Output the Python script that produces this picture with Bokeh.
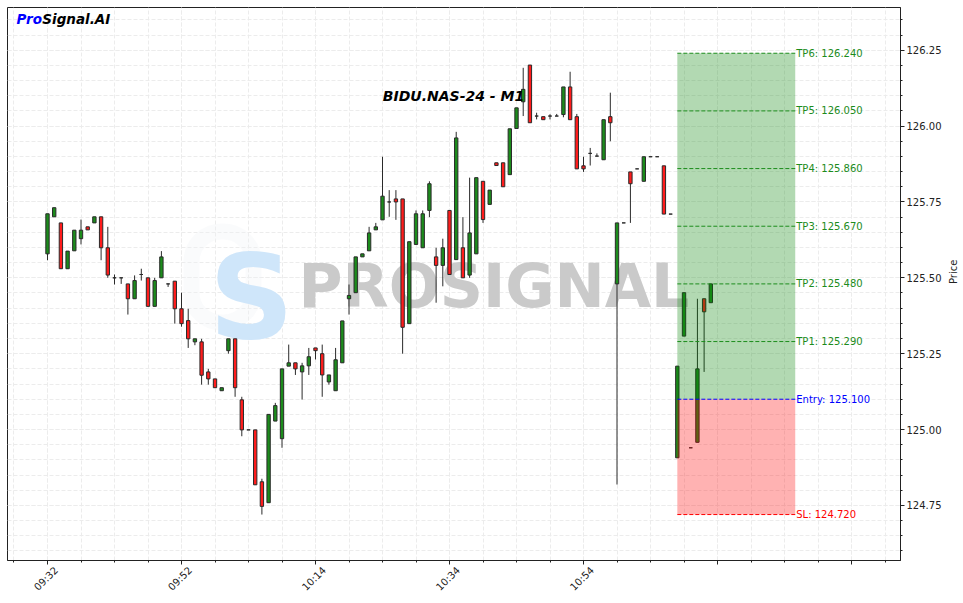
import math
from bokeh.plotting import figure
from bokeh.models import (ColumnDataSource, Range1d, FixedTicker, Label, LinearAxis,
                          BoxAnnotation, NumeralTickFormatter)
from bokeh.embed import file_html
from bokeh.resources import INLINE
from bokeh.core.properties import value

# ---------------- data ----------------
opens = [125.579, 125.701, 125.681, 125.530, 125.589, 125.629, 125.668, 125.681, 125.701, 125.599,
         125.500, 125.500, 125.480, 125.431, 125.511, 125.500, 125.406, 125.500, 125.480, 125.489,
         125.398, 125.359, 125.289, 125.289, 125.190, 125.167, 125.128, 125.260, 125.299, 125.098,
         124.999, 124.999, 124.828, 124.759, 125.028, 124.970, 125.209, 125.220, 125.190, 125.210,
         125.269, 125.250, 125.157, 125.128, 125.220, 125.431, 125.451, 125.569, 125.589, 125.658,
         125.691, 125.750, 125.760, 125.760, 125.349, 125.610, 125.599, 125.722, 125.569, 125.541,
         125.722, 125.560, 125.599, 125.509, 125.579, 125.818, 125.742, 125.879, 125.879, 125.840,
         125.992, 126.080, 126.201, 126.033, 126.031, 126.033, 126.033, 126.038, 126.129, 126.031,
         125.869, 125.910, 125.901, 125.889, 126.031, 125.480, 125.681, 125.849, 125.859, 125.818,
         125.899, 125.899, 125.869, 125.710, 124.907, 125.308, 124.940, 124.958, 125.431, 125.418]
highs = [125.711, 125.731, 125.681, 125.588, 125.657, 125.692, 125.668, 125.701, 125.701, 125.668,
         125.511, 125.500, 125.480, 125.508, 125.530, 125.500, 125.500, 125.588, 125.480, 125.489,
         125.451, 125.398, 125.299, 125.299, 125.200, 125.167, 125.138, 125.299, 125.299, 125.108,
         124.999, 124.999, 124.838, 125.050, 125.088, 125.200, 125.280, 125.220, 125.220, 125.269,
         125.269, 125.280, 125.180, 125.269, 125.358, 125.478, 125.569, 125.579, 125.668, 125.681,
         125.899, 125.789, 125.789, 125.760, 125.619, 125.722, 125.722, 125.818, 125.599, 125.629,
         125.722, 125.981, 125.700, 125.830, 125.830, 125.818, 125.789, 125.879, 125.879, 125.991,
         126.060, 126.192, 126.201, 126.044, 126.031, 126.039, 126.040, 126.129, 126.179, 126.040,
         125.899, 125.928, 125.910, 126.021, 126.110, 125.681, 125.681, 125.849, 125.859, 125.899,
         125.899, 125.899, 125.869, 125.710, 125.209, 125.451, 124.940, 125.431, 125.431, 125.480]
lows = [125.558, 125.701, 125.530, 125.530, 125.589, 125.610, 125.658, 125.681, 125.558, 125.500,
        125.478, 125.480, 125.379, 125.431, 125.491, 125.406, 125.406, 125.500, 125.470, 125.349,
        125.339, 125.269, 125.278, 125.148, 125.148, 125.138, 125.128, 125.250, 125.108, 124.978,
        124.999, 124.818, 124.720, 124.759, 125.028, 124.940, 125.209, 125.180, 125.099, 125.180,
        125.231, 125.108, 125.148, 125.128, 125.220, 125.379, 125.451, 125.569, 125.589, 125.658,
        125.691, 125.701, 125.691, 125.250, 125.349, 125.610, 125.599, 125.700, 125.418, 125.472,
        125.511, 125.560, 125.500, 125.500, 125.579, 125.681, 125.742, 125.870, 125.800, 125.840,
        125.992, 126.033, 126.011, 126.022, 126.021, 126.022, 126.033, 126.029, 126.021, 125.859,
        125.849, 125.870, 125.901, 125.889, 125.950, 124.819, 125.681, 125.681, 125.859, 125.818,
        125.899, 125.899, 125.710, 125.710, 124.907, 125.308, 124.940, 124.958, 125.190, 125.418]
closes = [125.711, 125.731, 125.530, 125.588, 125.657, 125.657, 125.658, 125.701, 125.599, 125.509,
          125.500, 125.500, 125.431, 125.491, 125.511, 125.406, 125.491, 125.569, 125.480, 125.398,
          125.349, 125.299, 125.299, 125.179, 125.167, 125.138, 125.138, 125.299, 125.138, 124.999,
          124.999, 124.818, 124.747, 125.050, 125.079, 125.200, 125.220, 125.200, 125.210, 125.240,
          125.260, 125.180, 125.180, 125.230, 125.358, 125.442, 125.569, 125.579, 125.648, 125.668,
          125.769, 125.750, 125.750, 125.337, 125.619, 125.711, 125.711, 125.810, 125.541, 125.599,
          125.511, 125.961, 125.500, 125.648, 125.830, 125.692, 125.789, 125.870, 125.800, 125.991,
          126.060, 126.121, 126.011, 126.033, 126.021, 126.033, 126.033, 126.129, 126.021, 125.859,
          125.859, 125.910, 125.901, 126.021, 126.011, 125.681, 125.681, 125.810, 125.859, 125.899,
          125.899, 125.899, 125.710, 125.710, 125.209, 125.451, 124.940, 125.200, 125.388, 125.480]

x_tick_positions = [0, 20, 40, 60, 80, 100, 120]
x_tick_labels = ["09:32", "09:52", "10:14", "10:34", "10:54", "", ""]
y_tick_values = [124.75, 125.00, 125.25, 125.50, 125.75, 126.00, 126.25]

entry_price = 125.100
sl_price = 124.720
tp_names = ["TP1", "TP2", "TP3", "TP4", "TP5", "TP6"]
tp_prices = [125.290, 125.480, 125.670, 125.860, 126.050, 126.240]
zone_start = 94
zone_end = 111.6

symbol_title = "BIDU.NAS-24 - M1"

# ---------------- derived columns ----------------
idx = list(range(len(opens)))
GREEN = "#1c8c1c"
RED = "#ff1c1c"
src = ColumnDataSource(dict(
    x=idx,
    high=highs,
    low=lows,
    top=[max(o, c) for o, c in zip(opens, closes)],
    bottom=[min(o, c) for o, c in zip(opens, closes)],
    color=[GREEN if c >= o else RED for o, c in zip(opens, closes)],
))

p = figure(frame_width=893, frame_height=553,
           x_range=Range1d(-5.97, 127.31), y_range=Range1d(124.5686, 126.3907),
           y_axis_location="right", toolbar_location=None, output_backend="svg",
           min_border_left=7, min_border_top=7, min_border_right=0, min_border_bottom=0,
           background_fill_color="white", border_fill_color="white")
p.outline_line_color = "#222222"
p.outline_line_width = 1
p.outline_line_alpha = 1

# ticks / axes
xt = FixedTicker(ticks=x_tick_positions, minor_ticks=list(range(-5, 130, 5)))
yt = FixedTicker(ticks=y_tick_values,
                 minor_ticks=[round(124.55 + 0.05 * i, 2) for i in range(38)])
p.xaxis.ticker = xt
p.yaxis.ticker = yt
p.xgrid.ticker = xt
p.ygrid.ticker = yt
p.xaxis.major_label_text_font_size = "0px"
p.xaxis.major_label_standoff = 0
p.xaxis.major_label_overrides = {t: "" for t in x_tick_positions}
p.yaxis.formatter = NumeralTickFormatter(format="0.00")

for ax in (p.xaxis, p.yaxis):
    ax.axis_line_color = "#222222"
    ax.major_tick_line_color = "#222222"
    ax.minor_tick_line_color = "#222222"
    ax.major_tick_in = 0
    ax.major_tick_out = 4
    ax.minor_tick_in = 0
    ax.minor_tick_out = 2
    ax.major_label_text_font = "DejaVu Sans"
    ax.major_label_text_color = "#222222"
p.yaxis.major_label_text_font_size = "10px"
p.yaxis.major_label_standoff = 2

# second (label-only) axis: rotated time labels centred under their ticks
label_shift = 1.3
lab_ticks = [round(t + label_shift, 3) for t, lab in zip(x_tick_positions, x_tick_labels) if lab]
lab_text = [lab for lab in x_tick_labels if lab]
xlab_axis = LinearAxis(ticker=FixedTicker(ticks=lab_ticks, minor_ticks=[]),
                       major_label_overrides=dict(zip(lab_ticks, lab_text)),
                       axis_line_color=None, major_tick_line_color=None,
                       minor_tick_line_color=None, major_tick_out=0, major_tick_in=0,
                       major_label_orientation=math.pi / 4, major_label_standoff=4,
                       major_label_text_font="DejaVu Sans", major_label_text_font_size="10px",
                       major_label_text_color="#222222")
p.add_layout(xlab_axis, "below")

p.yaxis.axis_label = "Price"
p.yaxis.axis_label_text_font = "DejaVu Sans"
p.yaxis.axis_label_text_font_style = "normal"
p.yaxis.axis_label_text_font_size = "10px"
p.yaxis.axis_label_text_color = "#222222"
p.yaxis.axis_label_standoff = 9
p.yaxis.axis_label_orientation = math.pi / 2

for g in (p.xgrid, p.ygrid):
    g.grid_line_color = "#ececec"
    g.grid_line_dash = "4 2"
    g.minor_grid_line_color = "#ececec"
    g.minor_grid_line_dash = "4 2"

# ---------------- watermark ----------------
p.add_layout(BoxAnnotation(left=184, right=246, top=329, bottom=238,
                           left_units="screen", right_units="screen",
                           top_units="screen", bottom_units="screen",
                           border_radius=30, fill_alpha=0, line_color="#edf1f6",
                           line_width=16, level="underlay"))
p.add_layout(Label(x=244, y=264, x_units="screen", y_units="screen", text="S",
                   text_font="DejaVu Sans", text_font_style="bold", text_font_size="118px",
                   text_color="#cfe6fa", text_align="center", text_baseline="middle",
                   level="underlay"))
p.add_layout(Label(x=291, y=275, x_units="screen", y_units="screen", text="PROSIGNAL",
                   text_font="DejaVu Sans", text_font_style="bold", text_font_size="60px",
                   text_color="#cacaca", text_align="left", text_baseline="middle",
                   level="underlay"))

# ---------------- candles ----------------
p.segment(x0="x", y0="high", x1="x", y1="low", source=src, line_color="#2a2a2a", line_width=1)
p.vbar(x="x", width=0.5, top="top", bottom="bottom", source=src,
       fill_color="color", line_color="#2a2a2a", line_width=1)

# ---------------- trade zones ----------------
p.quad(left=[zone_start], right=[zone_end], bottom=[entry_price], top=[max(tp_prices)],
       fill_color="#008000", fill_alpha=0.3, line_alpha=0)
p.quad(left=[zone_start], right=[zone_end], bottom=[sl_price], top=[entry_price],
       fill_color="#ff0000", fill_alpha=0.3, line_alpha=0)

lvl_prices = tp_prices + [entry_price, sl_price]
lvl_colors = ["#1c8c1c"] * len(tp_prices) + ["#0000ff", "#ff0000"]
lvl_text = [f"{n}: {v:.3f}" for n, v in zip(tp_names, tp_prices)] + \
           [f"Entry: {entry_price:.3f}", f"SL: {sl_price:.3f}"]
lvl_src = ColumnDataSource(dict(x0=[zone_start] * len(lvl_prices), x1=[zone_end] * len(lvl_prices),
                                y=lvl_prices, color=lvl_colors, text=lvl_text))
p.segment(x0="x0", y0="y", x1="x1", y1="y", source=lvl_src, line_color="color",
          line_width=1, line_dash="4 2")
p.text(x="x1", y="y", text="text", source=lvl_src, text_color="color",
       text_font=value("DejaVu Sans"), text_font_size="10px",
       text_align="left", text_baseline="middle", x_offset=1)

# ---------------- titles ----------------
p.add_layout(Label(x=446, y=465, x_units="screen", y_units="screen", text=symbol_title,
                   text_font="DejaVu Sans", text_font_style="bold italic", text_font_size="14px",
                   text_color="black", text_align="center", text_baseline="middle"))
p.add_layout(Label(x=9, y=542, x_units="screen", y_units="screen", text="Pro",
                   text_font="DejaVu Sans", text_font_style="bold italic", text_font_size="13.5px",
                   text_color="#0000ff", text_align="left", text_baseline="middle"))
p.add_layout(Label(x=34.8, y=542, x_units="screen", y_units="screen", text="Signal.AI",
                   text_font="DejaVu Sans", text_font_style="bold italic", text_font_size="13.5px",
                   text_color="black", text_align="left", text_baseline="middle"))

open("out.html", "w").write(file_html(p, INLINE))
